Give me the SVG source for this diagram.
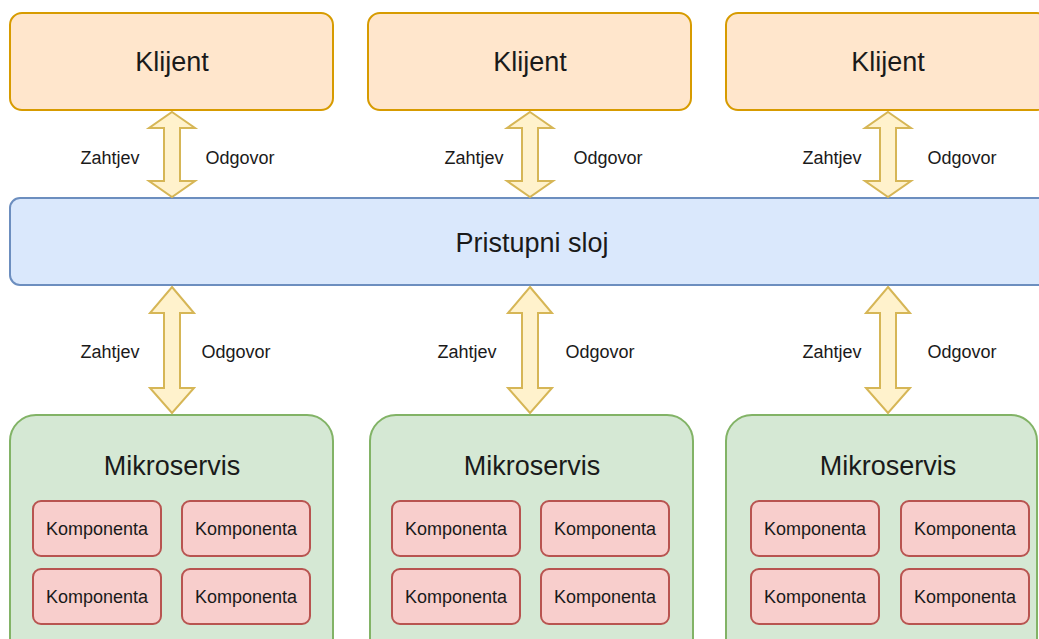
<svg xmlns="http://www.w3.org/2000/svg" width="1039" height="639" viewBox="0 0 1039 639">
<style>
text{font-family:"Liberation Sans",Arial,sans-serif;fill:#1a1a1a;text-anchor:middle;dominant-baseline:central}
.big{font-size:27px}
.sm{font-size:18px}
.kl{fill:#ffe6cc;stroke:#d79b00;stroke-width:2}
.ps{fill:#dae8fc;stroke:#6c8ebf;stroke-width:2}
.ms{fill:#d5e8d4;stroke:#82b366;stroke-width:2}
.kp{fill:#f8cecc;stroke:#b85450;stroke-width:2}
.ar{fill:#fff2cc;stroke:#d6b656;stroke-width:2;stroke-linejoin:miter}
</style>
<rect width="1039" height="639" fill="#ffffff"/>
<g id="klijent1"><rect class="kl" x="10" y="13" width="323" height="97" rx="12"/><text class="big" x="172" y="62">Klijent</text></g>
<g id="klijent2"><rect class="kl" x="368" y="13" width="323" height="97" rx="12"/><text class="big" x="530" y="62">Klijent</text></g>
<g id="klijent3"><rect class="kl" x="726" y="13" width="323" height="97" rx="12"/><text class="big" x="888" y="62">Klijent</text></g>
<g id="pristupni"><rect class="ps" x="10" y="198" width="1045" height="87" rx="10"/><text class="big" x="532" y="243">Pristupni sloj</text></g>
<g id="ms1"><rect class="ms" x="10" y="415" width="323" height="250" rx="26"/><text class="big" x="172" y="466">Mikroservis</text>
<g id="k11"><rect class="kp" x="33" y="501" width="128" height="55" rx="8"/><text class="sm" x="97" y="529">Komponenta</text></g>
<g id="k12"><rect class="kp" x="182" y="501" width="128" height="55" rx="8"/><text class="sm" x="246" y="529">Komponenta</text></g>
<g id="k13"><rect class="kp" x="33" y="569" width="128" height="55" rx="8"/><text class="sm" x="97" y="597">Komponenta</text></g>
<g id="k14"><rect class="kp" x="182" y="569" width="128" height="55" rx="8"/><text class="sm" x="246" y="597">Komponenta</text></g>
</g>
<g id="ms2"><rect class="ms" x="370" y="415" width="323" height="250" rx="26"/><text class="big" x="532" y="466">Mikroservis</text>
<g id="k21"><rect class="kp" x="392" y="501" width="128" height="55" rx="8"/><text class="sm" x="456" y="529">Komponenta</text></g>
<g id="k22"><rect class="kp" x="541" y="501" width="128" height="55" rx="8"/><text class="sm" x="605" y="529">Komponenta</text></g>
<g id="k23"><rect class="kp" x="392" y="569" width="128" height="55" rx="8"/><text class="sm" x="456" y="597">Komponenta</text></g>
<g id="k24"><rect class="kp" x="541" y="569" width="128" height="55" rx="8"/><text class="sm" x="605" y="597">Komponenta</text></g>
</g>
<g id="ms3"><rect class="ms" x="726" y="415" width="311" height="250" rx="26"/><text class="big" x="888" y="466">Mikroservis</text>
<g id="k31"><rect class="kp" x="751" y="501" width="128" height="55" rx="8"/><text class="sm" x="815" y="529">Komponenta</text></g>
<g id="k32"><rect class="kp" x="901" y="501" width="128" height="55" rx="8"/><text class="sm" x="965" y="529">Komponenta</text></g>
<g id="k33"><rect class="kp" x="751" y="569" width="128" height="55" rx="8"/><text class="sm" x="815" y="597">Komponenta</text></g>
<g id="k34"><rect class="kp" x="901" y="569" width="128" height="55" rx="8"/><text class="sm" x="965" y="597">Komponenta</text></g>
</g>
<g id="connectors">
<polygon class="ar" points="172,112 195,128 180,128 180,181 195,181 172,197 149,181 164,181 164,128 149,128"/>
<polygon class="ar" points="530,112 553,128 538,128 538,181 553,181 530,197 507,181 522,181 522,128 507,128"/>
<polygon class="ar" points="888,112 911,128 896,128 896,181 911,181 888,197 865,181 880,181 880,128 865,128"/>
<polygon class="ar" points="172,287 194,313 180,313 180,388 194,388 172,413 150,388 164,388 164,313 150,313"/>
<polygon class="ar" points="530,287 552,313 538,313 538,388 552,388 530,413 508,388 522,388 522,313 508,313"/>
<polygon class="ar" points="888,287 910,313 896,313 896,388 910,388 888,413 866,388 880,388 880,313 866,313"/>
<text class="sm" x="110" y="158">Zahtjev</text><text class="sm" x="240" y="158">Odgovor</text>
<text class="sm" x="474" y="158">Zahtjev</text><text class="sm" x="608" y="158">Odgovor</text>
<text class="sm" x="832" y="158">Zahtjev</text><text class="sm" x="962" y="158">Odgovor</text>
<text class="sm" x="110" y="352">Zahtjev</text><text class="sm" x="236" y="352">Odgovor</text>
<text class="sm" x="467" y="352">Zahtjev</text><text class="sm" x="600" y="352">Odgovor</text>
<text class="sm" x="832" y="352">Zahtjev</text><text class="sm" x="962" y="352">Odgovor</text>
</g>
</svg>
